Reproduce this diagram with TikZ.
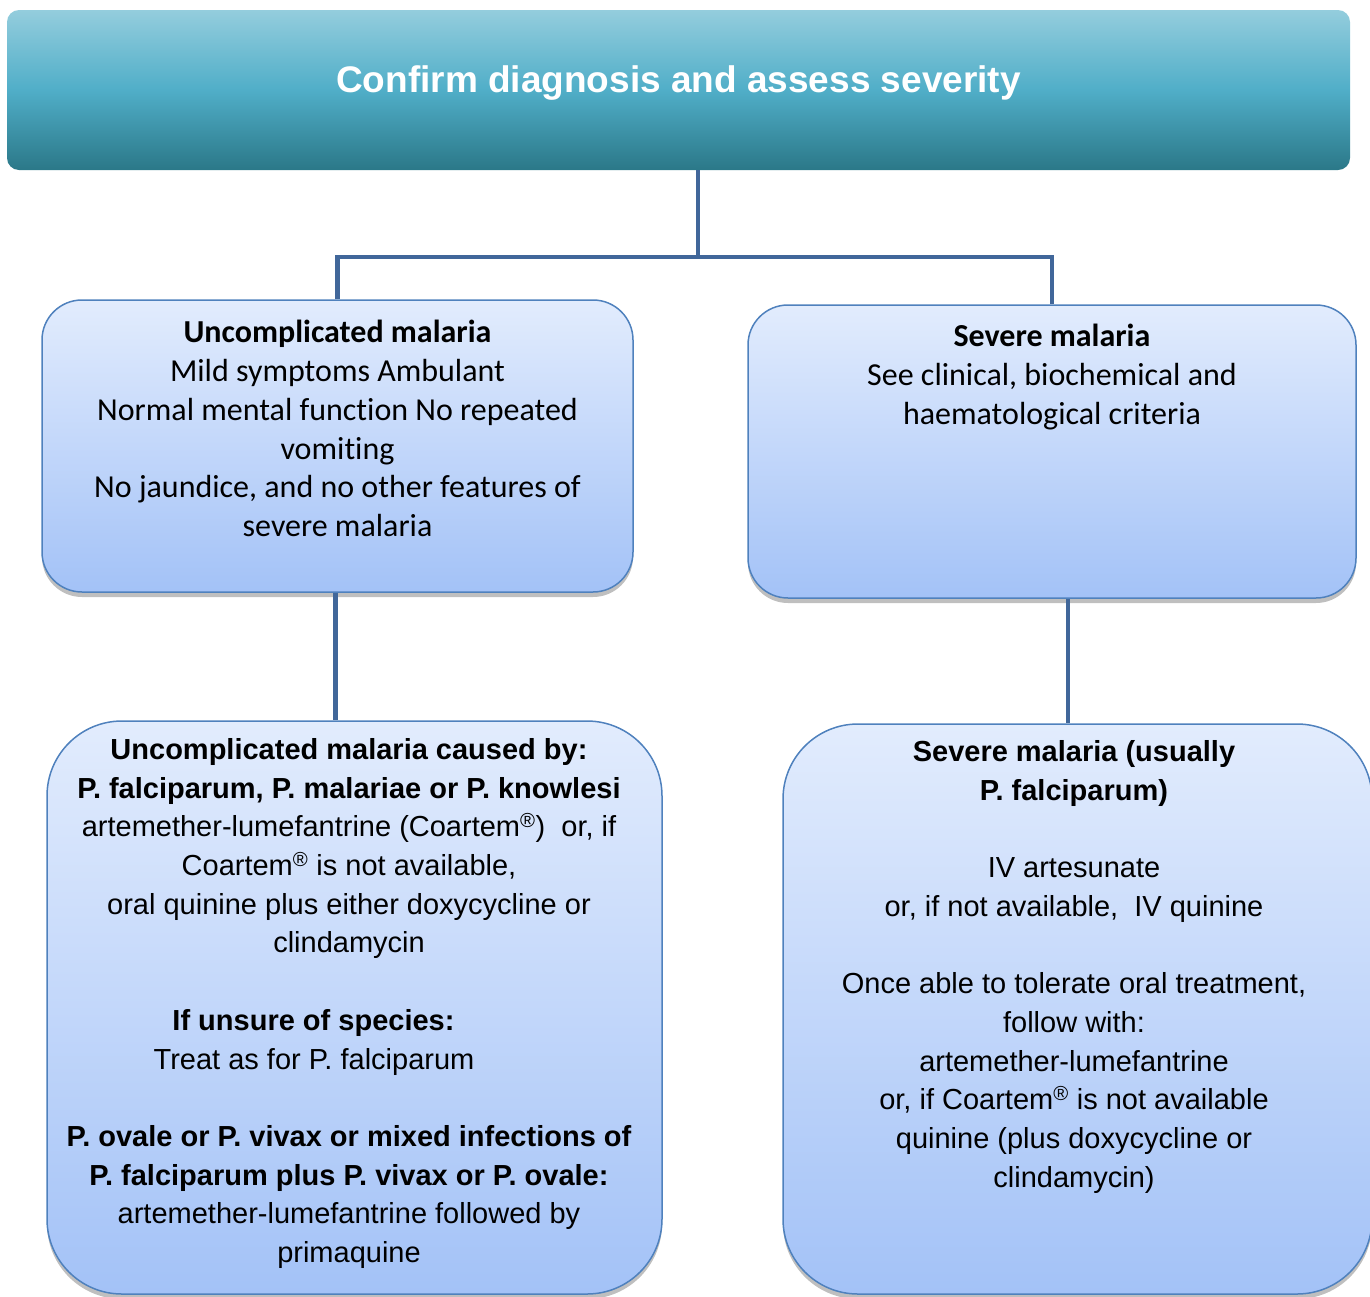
\documentclass[tikz,border=0pt]{standalone}
\usepackage{fontspec}
\newfontfamily\calibri[Ligatures=NoCommon]{Carlito}
\newfontfamily\arial{Liberation Sans}
\usetikzlibrary{shadows}

\definecolor{titletop}{HTML}{94CDDD}
\definecolor{titlemid}{HTML}{50AEC8}
\definecolor{titlebot}{HTML}{2B7888}
\definecolor{boxtop}{HTML}{E2ECFD}
\definecolor{boxbot}{HTML}{A3C2F7}
\definecolor{boxline}{HTML}{4F81BD}
\definecolor{connblue}{HTML}{41679A}

\newcommand{\reg}{\textsuperscript{®}}

\begin{document}
\begin{tikzpicture}[x=1pt,y=-1pt,
	conn/.style={draw=connblue, line width=4.5pt},
	box/.style={rectangle, draw=boxline, line width=1.5pt, top color=boxtop, bottom color=boxbot},
	softshadow/.style={drop shadow={shadow xshift=0pt, shadow yshift=-5pt, opacity=0.25, fill=black}},
	boxtext/.style={anchor=north, inner sep=0pt, align=center, execute at begin node={\rule{0pt}{30pt}}},
	calfont/.style={font=\calibri\fontsize{32}{38.7}\selectfont},
	arfont/.style={font=\arial\fontsize{29}{38.7}\selectfont}]
	\useasboundingbox (0,0) rectangle (1370,1296);

	% title
	\node[rectangle, rounded corners=12pt, top color=titletop, bottom color=titlebot, middle color=titlemid,
		minimum width=1343pt, minimum height=160pt] (titlebox) at (678.5,90) {};
	\node[boxtext, text=white, font=\arial\bfseries\fontsize{37}{40}\selectfont] (titletxt)
		at ([yshift=-52pt]titlebox.north) {Confirm diagnosis and assess severity};

	% first row
	\node[box, softshadow, rounded corners=40pt, minimum width=591pt, minimum height=292pt] (ubox) at (337.5,446) {};
	\node[box, softshadow, rounded corners=40pt, minimum width=608pt, minimum height=293pt] (sbox) at (1052,451.5) {};
	\node[boxtext, calfont] (utxt) at ([yshift=-21pt]ubox.north) {{\bfseries Uncomplicated malaria}\\
		Mild symptoms Ambulant\\
		Normal mental function No repeated\\
		vomiting\\
		No jaundice, and no other features of\\
		severe malaria};
	\node[boxtext, calfont] (stxt) at ([yshift=-20pt]sbox.north) {{\bfseries Severe malaria}\\
		See clinical, biochemical and\\
		haematological criteria};

	% second row
	\node[box, softshadow, rounded corners=75pt, minimum width=615pt, minimum height=573pt] (cbox) at (354.5,1007.5) {};
	\node[box, softshadow, rounded corners=75pt, minimum width=589pt, minimum height=570pt] (dbox) at (1077.5,1009) {};
	\node[boxtext, arfont] (ctxt) at ([xshift=-5.5pt,yshift=-18pt]cbox.north) {{\bfseries Uncomplicated malaria caused by:}\\
		{\bfseries P. falciparum, P. malariae or P. knowlesi}\\
		artemether-lumefantrine (Coartem\reg)\ \ or, if\\
		Coartem\reg{} is not available,\\
		oral quinine plus either doxycycline or\\
		clindamycin\\[38.7pt]
		{\bfseries If unsure of species:}\kern71pt\\
		Treat as for P. falciparum\kern70pt\\[38.7pt]
		{\bfseries P. ovale or P. vivax or mixed infections of}\\
		{\bfseries P. falciparum plus P. vivax or P. ovale:}\\
		artemether-lumefantrine followed by\\
		primaquine};
	\node[boxtext, arfont] (dtxt) at ([xshift=-3.5pt,yshift=-17pt]dbox.north) {{\bfseries Severe malaria (usually}\\
		{\bfseries P. falciparum)}\\[38.7pt]
		IV artesunate\\
		or, if not available,\ \ IV quinine\\[38.7pt]
		Once able to tolerate oral treatment,\\
		follow with:\\
		artemether-lumefantrine\\
		or, if Coartem\reg{} is not available\\
		quinine (plus doxycycline or\\
		clindamycin)};

	% connectors
	\coordinate (split) at (698,257);
	\draw[conn] (titlebox.south -| split) -- (split);
	\draw[conn] (ubox.north) |- (split) -| (sbox.north);
	\draw[conn] ([xshift=-2pt]ubox.south) -- ([xshift=-2pt]ubox.south |- cbox.north);
	\draw[conn] ([xshift=16pt]sbox.south) -- ([xshift=16pt]sbox.south |- dbox.north);
\end{tikzpicture}
\end{document}
